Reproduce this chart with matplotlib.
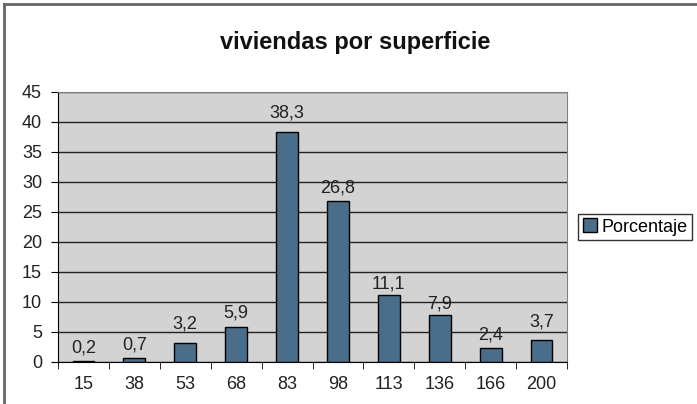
import numpy as np
import matplotlib.pyplot as plt
from matplotlib.lines import Line2D

plt.rcParams["font.family"] = ["Liberation Sans", "DejaVu Sans"]

categories = ["15", "38", "53", "68", "83", "98", "113", "136", "166", "200"]
porcentaje = [0.2, 0.7, 3.2, 5.9, 38.3, 26.8, 11.1, 7.9, 2.4, 3.7]
labels = ["0,2", "0,7", "3,2", "5,9", "38,3", "26,8", "11,1", "7,9", "2,4", "3,7"]
# gap in pixels between bar top and label baseline (labels moved off the gridlines)
label_gap = [8, 8, 14, 9, 15, 9, 7, 6, 8, 13]

W, H = 697, 404
fig = plt.figure(figsize=(W / 100, H / 100), dpi=100)
ax = fig.add_axes([58 / W, 1 - 362 / H, (567 - 58) / W, (362 - 92) / H])

x = np.arange(len(categories))
ax.set_facecolor("#d3d3d3")
ax.bar(x, porcentaje, width=0.43, color="#4a6e8a", edgecolor="black",
       linewidth=1, zorder=3, label="Porcentaje")

for xi, v, t, g in zip(x, porcentaje, labels, label_gap):
    ax.annotate(t, (xi, v), xytext=(0, g), textcoords="offset pixels",
                ha="center", va="baseline", fontsize=13, color="#222222")

ax.set_xlim(-0.5, len(categories) - 0.5)
ax.set_ylim(0, 45)
ax.set_yticks(range(0, 46, 5))
ax.yaxis.grid(True, color="#222222", linewidth=1, zorder=1)
ax.set_axisbelow(True)

# ticks between categories on the x axis
ax.set_xticks(x)
ax.set_xticklabels(categories, fontsize=13)
ax.set_xticks(np.arange(-0.5, len(categories), 1), minor=True)
ax.tick_params(axis="x", which="major", length=0, pad=10, colors="#222222")
ax.tick_params(axis="x", which="minor", length=5, direction="out", color="black")
ax.tick_params(axis="y", length=5, direction="out", labelsize=13, pad=6.5,
               labelcolor="#222222")

ax.spines["left"].set_color("black")
ax.spines["bottom"].set_color("black")
ax.spines["top"].set_color("#808080")
ax.spines["right"].set_color("#808080")

fig.text(355 / W, 1 - 43 / H, "viviendas por superficie",
         ha="center", va="center", fontsize=17, fontweight="bold", color="#111111")

handle = plt.Rectangle((0, 0), 1, 1, facecolor="#4a6e8a", edgecolor="black")
leg = fig.legend([handle], ["Porcentaje"], loc="center left",
                 bbox_to_anchor=(578 / W, 1 - 227 / H), fontsize=13,
                 frameon=True, fancybox=False, edgecolor="black",
                 handlelength=0.8, handleheight=0.8, handletextpad=0.25,
                 borderpad=0.25, borderaxespad=0)
leg.get_frame().set_linewidth(1)

# outer chart border (left and top edges visible)
fig.add_artist(Line2D([4 / W, 4 / W], [0, 1 - 4 / H], color="#666666", linewidth=2))
fig.add_artist(Line2D([4 / W, 1], [1 - 4 / H, 1 - 4 / H], color="#666666", linewidth=2))

fig.savefig("out.png", dpi=100)
